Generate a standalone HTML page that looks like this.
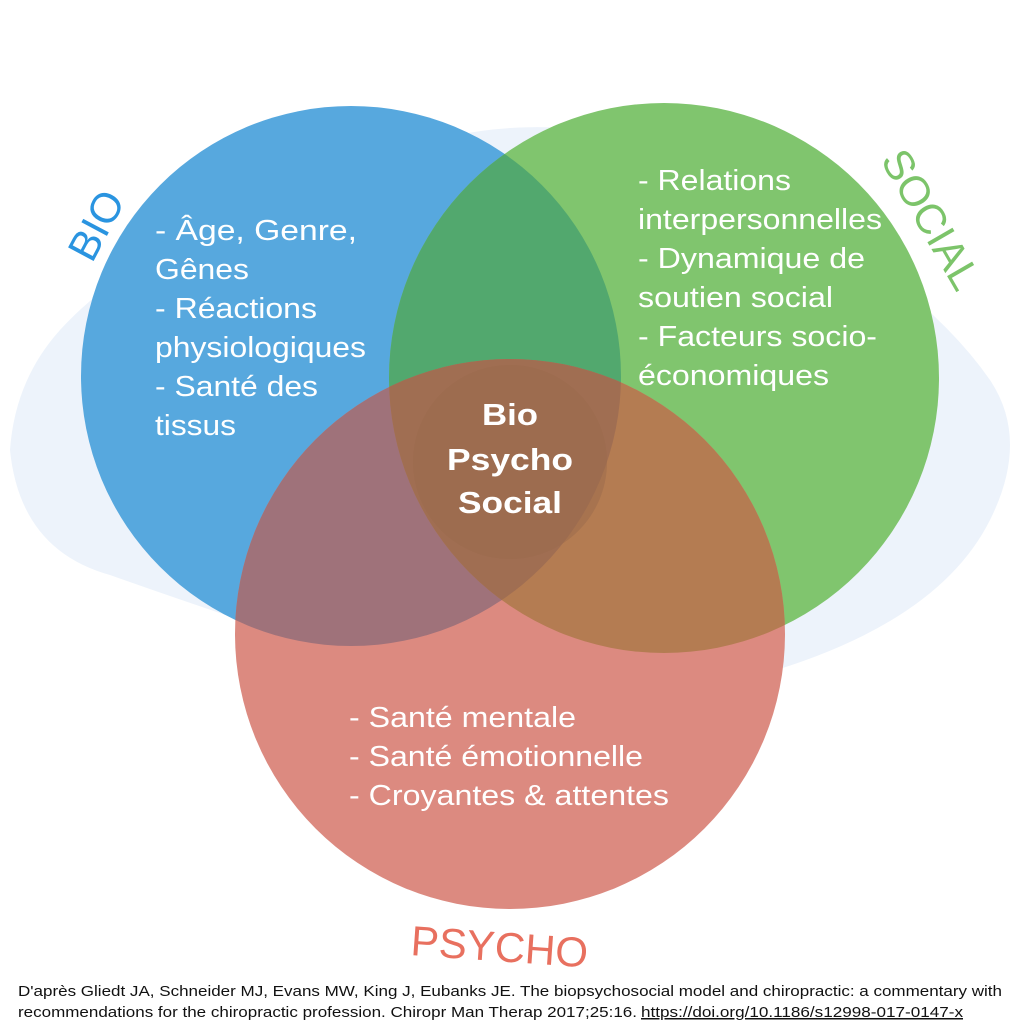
<!DOCTYPE html>
<html><head><meta charset="utf-8"><style>
body{margin:0;background:#fff;width:1024px;height:1024px;overflow:hidden}
svg text{font-family:"Liberation Sans",Arial,sans-serif}
</style></head><body>
<svg width="1024" height="1024" viewBox="0 0 1024 1024">
<defs>
<clipPath id="cb"><circle cx="351" cy="376" r="270"/></clipPath>
<clipPath id="cg"><circle cx="664" cy="378" r="275"/></clipPath>
<clipPath id="cr"><circle cx="510" cy="634" r="275"/></clipPath>
</defs>
<rect width="1024" height="1024" fill="#fff"/>
<path d="M60,330 Q150,230 400,150 Q520,110 640,140 Q900,250 990,380 Q1030,440 990,520 Q930,640 700,690 Q500,720 300,640 Q180,600 110,575 Q20,550 10,450 Q15,380 60,330Z" fill="#edf3fb"/>
<circle cx="351" cy="376" r="270" fill="#57a8de"/>
<circle cx="664" cy="378" r="275" fill="#80c56e"/>
<circle cx="510" cy="634" r="275" fill="#dc8a80"/>
<g clip-path="url(#cb)"><circle cx="664" cy="378" r="275" fill="#52a86e"/><circle cx="510" cy="634" r="275" fill="#9f727a"/></g>
<g clip-path="url(#cg)"><circle cx="510" cy="634" r="275" fill="#b47c52"/></g>
<g clip-path="url(#cb)"><g clip-path="url(#cg)"><circle cx="510" cy="634" r="275" fill="#a06e52"/></g></g>
<circle cx="510" cy="462" r="97" fill="#9a6a4c" opacity="0.5"/>
<g fill="#fff" font-size="29" lengthAdjust="spacingAndGlyphs">
<text x="155" y="240" textLength="202" lengthAdjust="spacingAndGlyphs">- Âge, Genre,</text>
<text x="155" y="279" textLength="94" lengthAdjust="spacingAndGlyphs">Gênes</text>
<text x="155" y="318" textLength="162" lengthAdjust="spacingAndGlyphs">- Réactions</text>
<text x="155" y="357" textLength="211" lengthAdjust="spacingAndGlyphs">physiologiques</text>
<text x="155" y="396" textLength="163" lengthAdjust="spacingAndGlyphs">- Santé des</text>
<text x="155" y="435" textLength="81" lengthAdjust="spacingAndGlyphs">tissus</text>
<text x="638" y="190" textLength="153" lengthAdjust="spacingAndGlyphs">- Relations</text>
<text x="638" y="229" textLength="244" lengthAdjust="spacingAndGlyphs">interpersonnelles</text>
<text x="638" y="268" textLength="227" lengthAdjust="spacingAndGlyphs">- Dynamique de</text>
<text x="638" y="307" textLength="195" lengthAdjust="spacingAndGlyphs">soutien social</text>
<text x="638" y="346" textLength="239" lengthAdjust="spacingAndGlyphs">- Facteurs socio-</text>
<text x="638" y="385" textLength="191" lengthAdjust="spacingAndGlyphs">économiques</text>
<text x="349" y="727" textLength="227" lengthAdjust="spacingAndGlyphs">- Santé mentale</text>
<text x="349" y="766" textLength="294" lengthAdjust="spacingAndGlyphs">- Santé émotionnelle</text>
<text x="349" y="805" textLength="320" lengthAdjust="spacingAndGlyphs">- Croyantes &amp; attentes</text>
</g>
<g fill="#fff" font-size="31" font-weight="bold">
<text x="482" y="425" textLength="56" lengthAdjust="spacingAndGlyphs">Bio</text>
<text x="447" y="470" textLength="126" lengthAdjust="spacingAndGlyphs">Psycho</text>
<text x="458" y="513" textLength="104" lengthAdjust="spacingAndGlyphs">Social</text>
</g>
<text x="0" y="0" font-size="42" fill="#2a94e0" transform="translate(92,264) rotate(-62)">BIO</text>
<text x="0" y="0" font-size="42" fill="#7cc46a" transform="translate(880,160) rotate(60)">SOCIAL</text>
<text x="0" y="0" font-size="42" fill="#e8705f" transform="translate(410,955) rotate(4)">PSYCHO</text>
<g font-size="15" fill="#111">
<text x="18" y="996" textLength="984" lengthAdjust="spacingAndGlyphs">D'après Gliedt JA, Schneider MJ, Evans MW, King J, Eubanks JE. The biopsychosocial model and chiropractic: a commentary with</text>
<text x="18" y="1017" textLength="619" lengthAdjust="spacingAndGlyphs">recommendations for the chiropractic profession. Chiropr Man Therap 2017;25:16.</text>
<text x="641" y="1017" textLength="322" lengthAdjust="spacingAndGlyphs" text-decoration="underline">https://doi.org/10.1186/s12998-017-0147-x</text>
</g>
</svg>
</body></html>
